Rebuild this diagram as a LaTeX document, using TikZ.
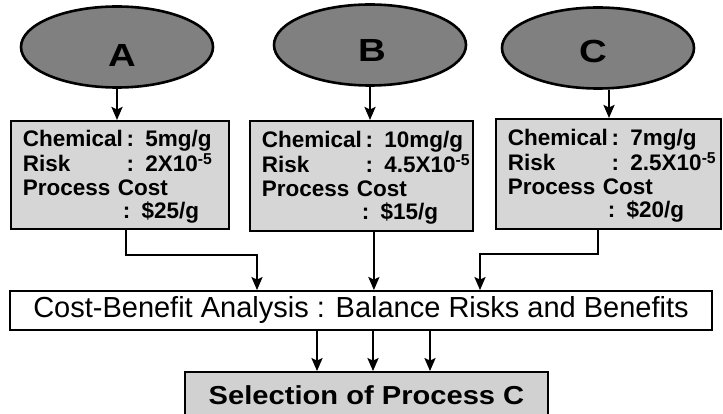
\documentclass[tikz,border=0pt]{standalone}
\usepackage{graphicx}
\usepackage{fontspec}
\setmainfont{Liberation Sans}
\usetikzlibrary{arrows.meta,shapes.geometric}

\tikzset{
  oval/.style={ellipse, draw, line width=2.6pt, fill=black!50,
    minimum width=192pt, minimum height=81pt, inner sep=0pt},
  letter/.style={inner sep=0pt, font=\fontsize{32}{32}\selectfont\bfseries},
  databox/.style={draw, line width=1.8pt, fill=black!16, anchor=north west,
    inner xsep=12pt, inner ysep=0pt, align=left,
    font=\fontsize{22.5}{23.3}\selectfont\bfseries},
  widebox/.style={draw, line width=1.8pt, fill=white, inner sep=0pt,
    minimum width=702pt, minimum height=39pt,
    font=\fontsize{29}{29}\selectfont},
  choicebox/.style={draw, line width=1.8pt, fill=black!18, inner sep=0pt,
    minimum width=363pt, minimum height=46pt,
    font=\fontsize{26}{26}\selectfont\bfseries},
  flow/.style={line width=2.3pt, -{Stealth[length=13pt,width=11pt,inset=2.5pt]}},
}

% four-line data sheet of one process, set a little below the box centre
\newcommand{\procdata}[3]{%
  \raisebox{-3pt}[\height][\depth]{%
  \begin{tabular}{@{}l@{}l@{}}
    Chemical & \,: #1\\
    Risk & \,: #2\\
    \multicolumn{2}{@{}l@{}}{Process Cost}\\
    & : #3
  \end{tabular}}}
\newcommand{\widen}[1]{\scalebox{1.2}[1]{#1}}

\begin{document}
\begin{tikzpicture}[x=1pt, y=-1pt]
  \useasboundingbox (0,0) rectangle (723,414);

  % candidate processes
  \node[oval] (ellA) at (117,47) {};
  \node[oval] (ellB) at (370,45) {};
  \node[oval] (ellC) at (598,48) {};
  \node[letter] (labA) at ([shift={(5pt,-8pt)}]ellA.center) {\widen{A}};
  \node[letter] (labB) at ([shift={(2pt,-5pt)}]ellB.center) {\widen{B}};
  \node[letter] (labC) at ([shift={(-5pt,-3pt)}]ellC.center) {\widen{C}};

  % process data
  \node[databox, text width=194pt, minimum height=108pt] (boxA) at (10,120)
    {\procdata{5mg/g}{2X10\textsuperscript{-5}}{\$25/g}};
  \node[databox, text width=199pt, minimum height=110pt] (boxB) at (249,120)
    {\procdata{10mg/g}{4.5X10\textsuperscript{-5}}{\$15/g}};
  \node[databox, text width=201pt, minimum height=110pt] (boxC) at (495,118)
    {\procdata{7mg/g}{2.5X10\textsuperscript{-5}}{\$20/g}};

  % analysis and decision
  \node[widebox] (cb) at (361,310.5)
    {Cost-Benefit Analysis : Balance Risks and Benefits};
  \node[choicebox] (sel) at (366.5,395)
    {\scalebox{1.12}[1]{Selection of Process C}};

  % entry and exit points of the connectors
  \coordinate (cTop) at ([xshift=11pt]ellC.south);
  \coordinate (aOut) at ([xshift=6pt]boxA.south);
  \coordinate (bOut) at ([xshift=12.5pt]boxB.south);
  \coordinate (cOut) at ([xshift=-10.5pt]boxC.south);
  \coordinate (aIn) at (257,0);
  \coordinate (cIn) at (480,0);
  \coordinate (s1) at (317,0);
  \coordinate (s2) at (373,0);
  \coordinate (s3) at (430,0);

  \draw[flow] (ellA.south) -- (ellA.south |- boxA.north);
  \draw[flow] (ellB.south) -- (ellB.south |- boxB.north);
  \draw[flow] (cTop) -- (cTop |- boxC.north);

  \draw[flow] (aOut) -- ++(0,25) -| (aIn |- cb.north);
  \draw[flow] (bOut) -- (bOut |- cb.north);
  \draw[flow] (cOut) -- ++(0,24) -| (cIn |- cb.north);

  \draw[flow] (s1 |- cb.south) -- (s1 |- sel.north);
  \draw[flow] (s2 |- cb.south) -- (s2 |- sel.north);
  \draw[flow] (s3 |- cb.south) -- (s3 |- sel.north);
\end{tikzpicture}
\end{document}
